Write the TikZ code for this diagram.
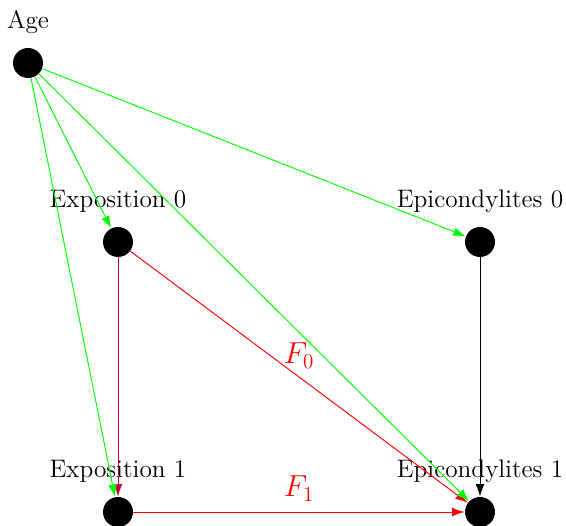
\documentclass[tikz,border=0pt]{standalone}
\usetikzlibrary{positioning,arrows.meta}
\begin{document}
\begin{tikzpicture}[x=0.02cm,y=0.02cm,>={Latex[length=7pt,width=5pt]},line width=0.55pt]
  \tikzstyle{vertex}=[circle, fill=black, inner sep=0pt, minimum size=0.6cm]
  \tikzstyle{vlabel}=[inner sep=0pt, font=\fontsize{14.4}{17}\selectfont]
  \tikzstyle{flowlabel}=[text=red, inner sep=0pt, font=\fontsize{17}{20}\selectfont]
  \useasboundingbox (0,0) rectangle (566,526);

  \node[vertex] (age) at (28,463) {};
  \node[vertex] (expo0) at (118,284) {};
  \node[vertex] (epic0) at (480,284) {};
  \node[vertex] (expo1) at (118,14) {};
  \node[vertex] (epic1) at (480,14) {};

  \node[vlabel, above=0.27cm of age] (agelab) {Age};
  \node[vlabel, above=0.27cm of expo0] (expo0lab) {Exposition 0};
  \node[vlabel, above=0.27cm of epic0] (epic0lab) {Epicondylites 0};
  \node[vlabel, above=0.27cm of expo1] (expo1lab) {Exposition 1};
  \node[vlabel, above=0.27cm of epic1] (epic1lab) {Epicondylites 1};

  \draw[->, red] (expo0) -- node[flowlabel, above=0.16cm] (f0) {$F_0$} (epic1);
  \draw[->, red] (expo1) -- node[flowlabel, above=0.2cm] (f1) {$F_1$} (epic1);
  \draw[->, purple] (expo0) -- (expo1);
  \draw[->, black] (epic0) -- (epic1);

  \draw[->, green] (age) -- (expo0);
  \draw[->, green] (age) -- (epic0);
  \draw[->, green] (age) -- (expo1);
  \draw[->, green] (age) -- (epic1);
\end{tikzpicture}
\end{document}
